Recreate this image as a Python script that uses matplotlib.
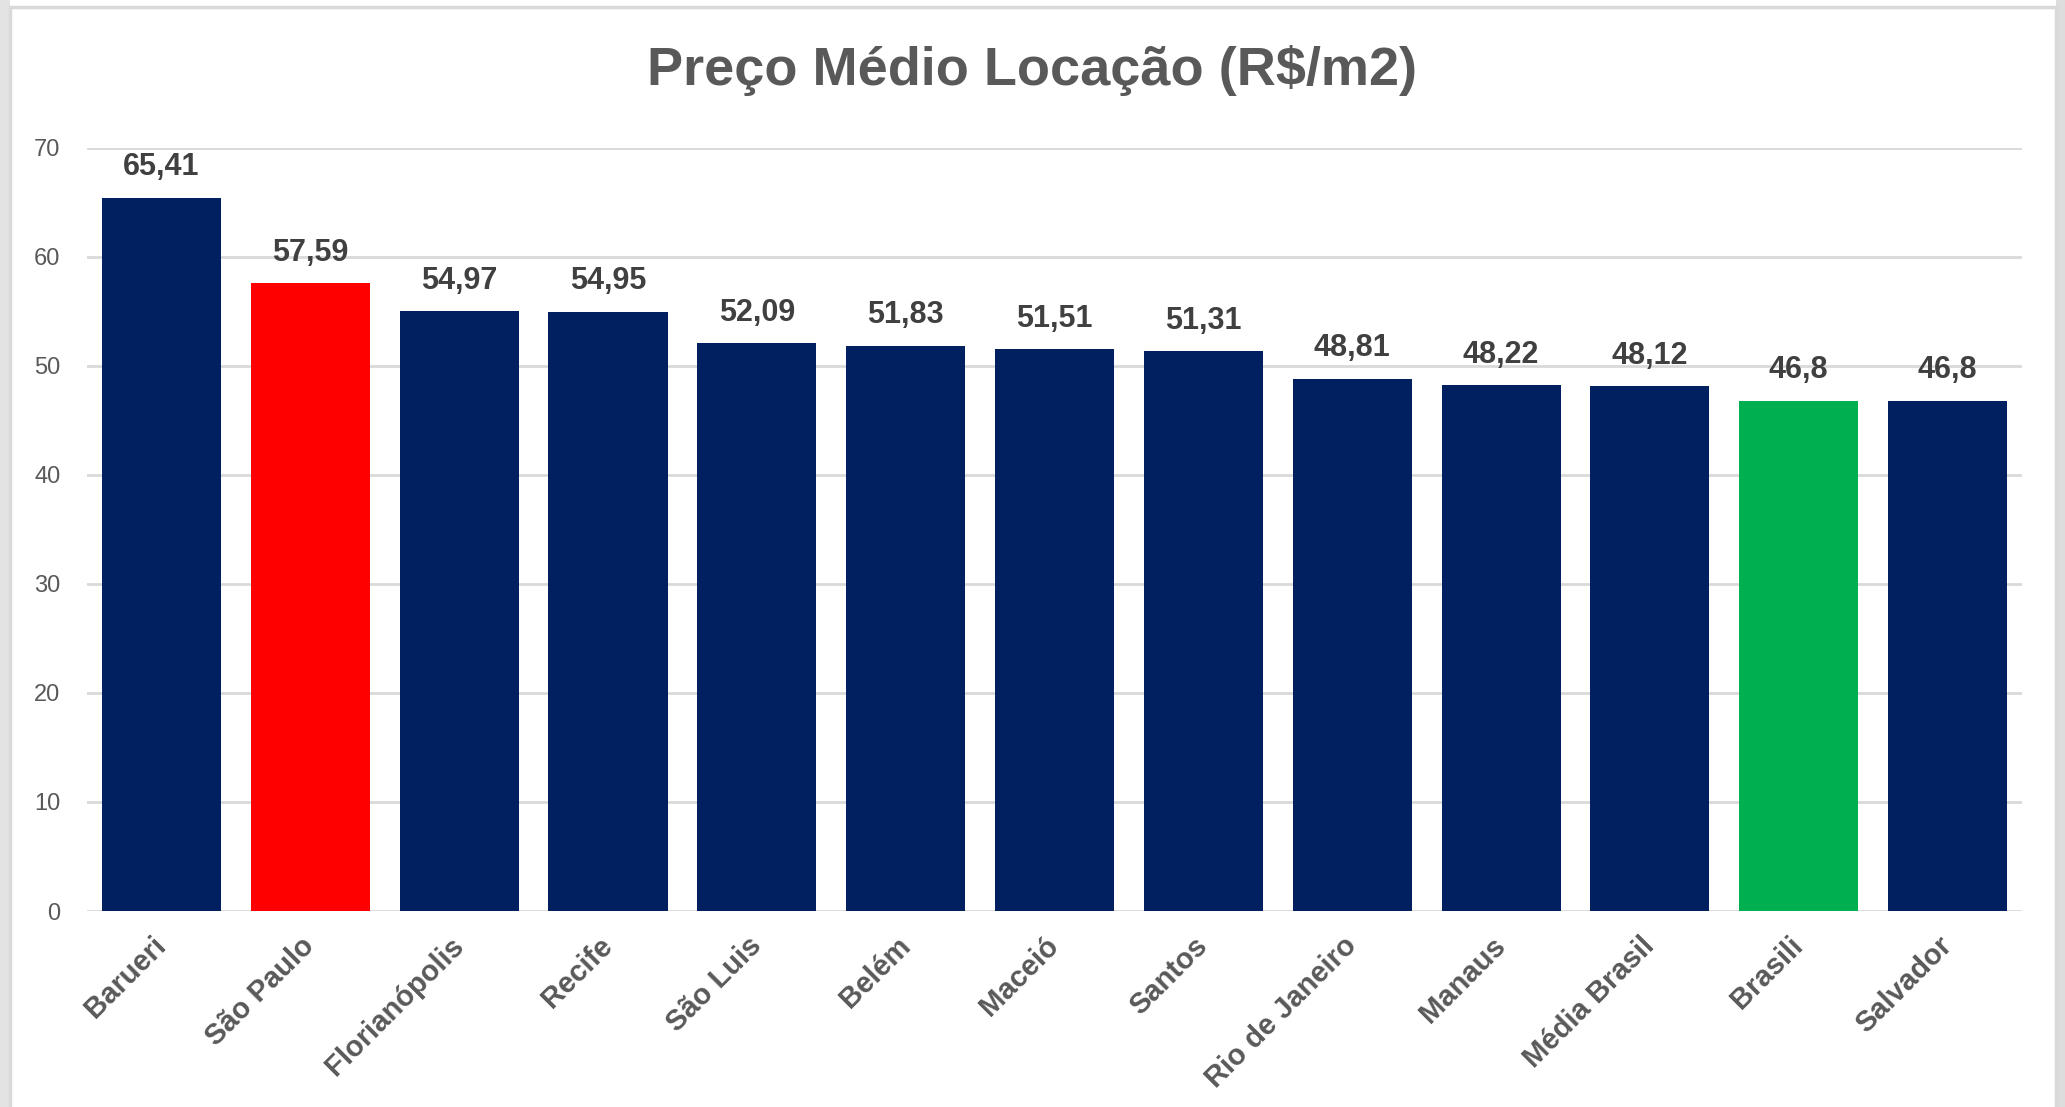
import matplotlib
matplotlib.use("Agg")
import matplotlib.pyplot as plt
from matplotlib import font_manager as fm
from matplotlib.patches import Rectangle

cidades = ["Barueri", "São Paulo", "Florianópolis", "Recife", "São Luis", "Belém",
           "Maceió", "Santos", "Rio de Janeiro", "Manaus", "Média Brasil", "Brasili", "Salvador"]
precos = [65.41, 57.59, 54.97, 54.95, 52.09, 51.83, 51.51, 51.31, 48.81, 48.22, 48.12, 46.8, 46.8]
rotulos = ["65,41", "57,59", "54,97", "54,95", "52,09", "51,83", "51,51", "51,31",
           "48,81", "48,22", "48,12", "46,8", "46,8"]
destaques = {"São Paulo": "#FF0000", "Brasili": "#00B050"}
cor_padrao = "#002060"
y_ticks = [0, 10, 20, 30, 40, 50, 60, 70]

nomes = {f.name for f in fm.fontManager.ttflist}
base = "Liberation Sans" if "Liberation Sans" in nomes else "DejaVu Sans"
if "Liberation Sans Narrow" in nomes:
    titulo_fonte = {"family": "Liberation Sans Narrow", "fontsize": 44}
else:
    titulo_fonte = {"family": base, "fontsize": 39}

plt.rcParams["font.family"] = [base, "DejaVu Sans"]

fig = plt.figure(figsize=(20.65, 11.07), dpi=100)
fig.patch.set_facecolor("white")

# moldura cinza do print
fig.add_artist(Rectangle((0, 0), 10 / 2065, 1, transform=fig.transFigure,
                         facecolor="#E3E3E3", edgecolor="none"))
fig.add_artist(Rectangle((2056 / 2065, 0), 9 / 2065, 1, transform=fig.transFigure,
                         facecolor="#DDDDDD", edgecolor="none"))
fig.add_artist(Rectangle((10 / 2065, -0.1), 2046 / 2065, (1107 - 7) / 1107 + 0.1,
                         transform=fig.transFigure, facecolor="none",
                         edgecolor="#D9D9D9", linewidth=2.5))

ax = fig.add_axes([87 / 2065, 196 / 1107, 1935 / 2065, 763.5 / 1107])
x = list(range(len(cidades)))
cores = [destaques.get(c, cor_padrao) for c in cidades]
ax.bar(x, precos, width=0.8, color=cores, zorder=3)

for xi, v, r in zip(x, precos, rotulos):
    ax.annotate(r, (xi, v), xytext=(0, 16), textcoords="offset points",
                ha="center", va="baseline", fontsize=22, fontweight="bold",
                color="#404040", zorder=4)

ax.set_xlim(-0.5, len(cidades) - 0.5)
ax.set_ylim(0, 70)
ax.set_yticks(y_ticks)
ax.set_yticklabels([str(t) for t in y_ticks])
ax.grid(axis="y", color="#D9D9D9", linewidth=2, zorder=0)
ax.set_axisbelow(True)
for s in ax.spines.values():
    s.set_visible(False)
ax.tick_params(axis="y", length=0, pad=19, labelsize=17, labelcolor="#595959")
ax.tick_params(axis="x", length=0, pad=22, labelsize=21, labelcolor="#595959")
ax.set_xticks(x)
ax.set_xticklabels(cidades, rotation=45, ha="right", va="center",
                   rotation_mode="anchor", fontweight="bold")

fig.text(0.5, 0.936, "Preço Médio Locação (R$/m2)", ha="center", va="center",
         fontweight="bold", color="#595959", **titulo_fonte)

fig.savefig("out.png", dpi=100, facecolor="white")
